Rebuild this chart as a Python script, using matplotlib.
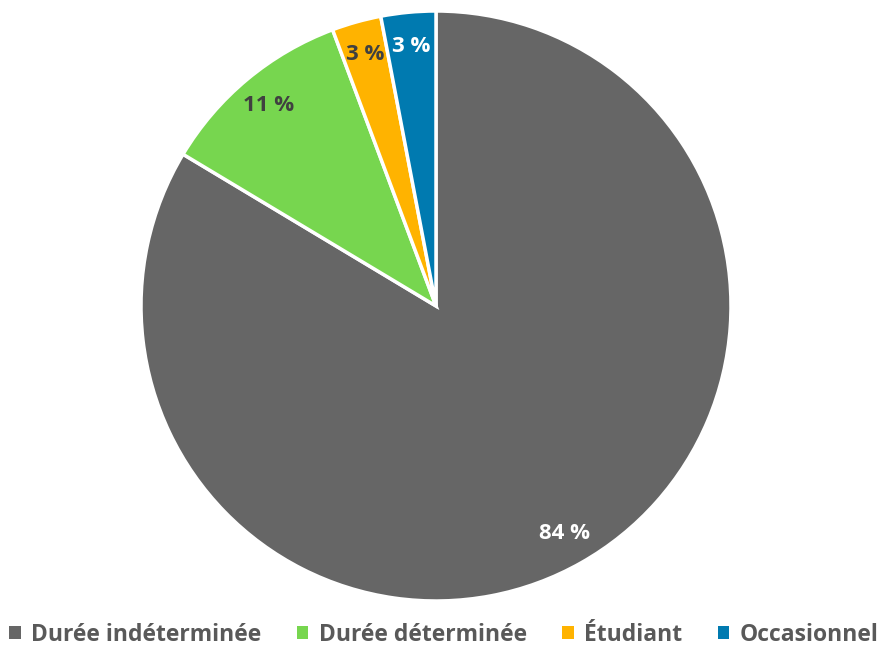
import matplotlib.pyplot as plt

categories = ["Durée indéterminée", "Durée déterminée", "Étudiant", "Occasionnel"]
values = [83.6, 10.7, 2.7, 3.0]
colors = ["#666666", "#77D64F", "#FFB300", "#007AB0"]
label_colors = ["white", "#404040", "#404040", "white"]

plt.rcParams['font.family'] = ['Open Sans', 'DejaVu Sans']

W, H = 879, 647
fig = plt.figure(figsize=(W / 100, H / 100), dpi=100)
# pie: center (436, 306) px, radius 295 px
ax = fig.add_axes([141 / W, (H - 601) / H, 590 / W, 590 / H])

wedges, texts, autotexts = ax.pie(
    values, colors=colors, startangle=90, counterclock=False,
    autopct=lambda p: f"{p:.0f} %", pctdistance=0.885,
    wedgeprops=dict(edgecolor="white", linewidth=2.5),
    textprops=dict(fontsize=16, fontweight="bold"))
for t, c in zip(autotexts, label_colors):
    t.set_color(c)
ax.set_xlim(-1, 1)
ax.set_ylim(-1, 1)
ax.set_aspect("equal")
ax.axis("off")

leg = fig.legend(wedges, categories, loc="center", bbox_to_anchor=(0.505, 1 - 635 / H),
                 ncol=4, frameon=False, handlelength=0.5, handleheight=0.5,
                 handletextpad=0.45, columnspacing=1.55,
                 prop=dict(size=16.5, weight="bold"))
for t in leg.get_texts():
    t.set_color("#595959")
for h in leg.legend_handles:
    h.set_edgecolor("none")

fig.savefig("out.png", dpi=100)
